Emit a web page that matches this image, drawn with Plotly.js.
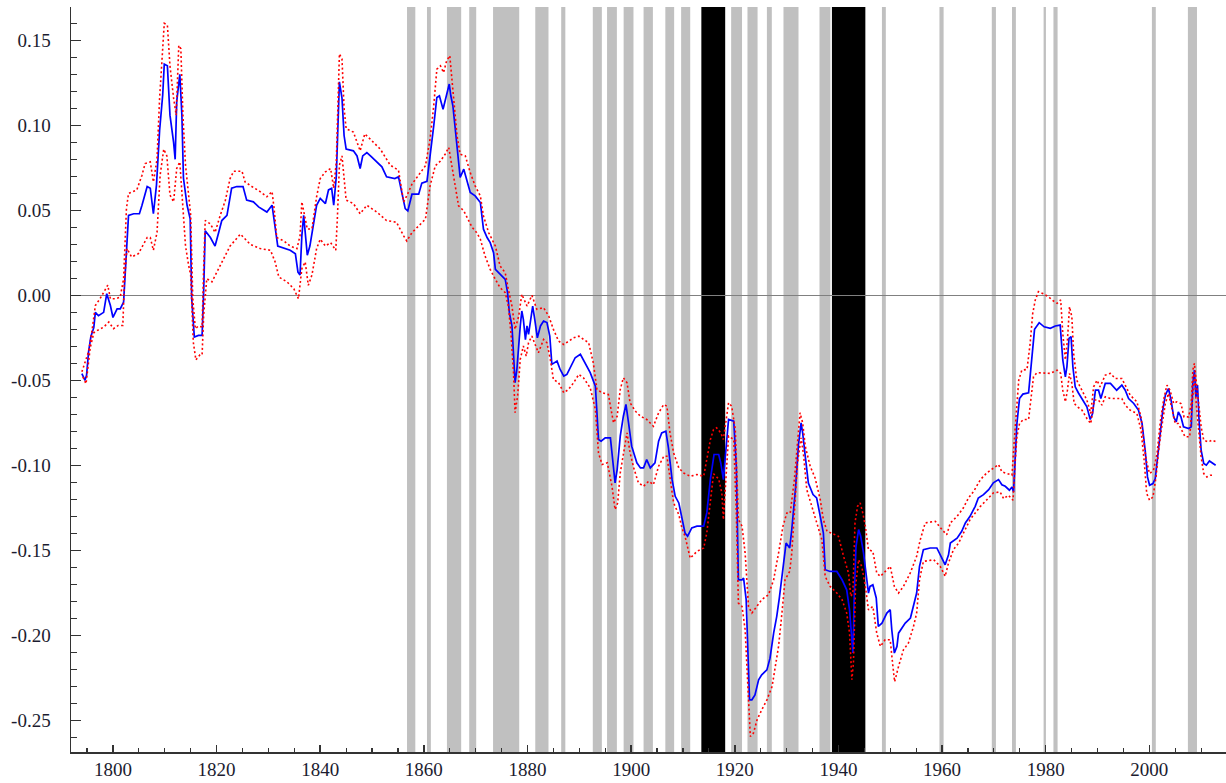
<!DOCTYPE html>
<html>
<head>
<meta charset="utf-8">
<script src="https://cdn.plot.ly/plotly-3.0.1.min.js"></script>
<style>html,body{margin:0;padding:0;background:#fff;}#chart{width:1226px;height:783px;}</style>
</head>
<body>
<div id="chart"></div>
<script>
// ---- Data: central estimate (blue) ----
var estYears = [1794.0,1794.6,1794.9,1795.3,1795.75,1796.3,1796.6,1797.2,1798.2,1798.8,1799.5,1800.0,1800.8,1801.4,1802.05,1802.6,1803.0,1804.0,1805.1,1805.6,1806.6,1807.2,1807.8,1808.4,1809.0,1809.6,1809.9,1810.5,1811.0,1811.7,1812.0,1812.3,1812.9,1813.3,1813.6,1814.3,1814.9,1815.2,1815.7,1816.5,1817.2,1817.5,1817.8,1818.8,1819.7,1820.4,1821.0,1822.0,1822.9,1823.9,1825.1,1825.8,1827.1,1828.1,1829.7,1830.7,1831.3,1831.8,1834.2,1835.2,1835.7,1836.1,1836.45,1836.8,1837.1,1837.5,1838.0,1838.4,1839.3,1840.0,1841.0,1841.6,1842.2,1842.6,1843.1,1843.4,1843.7,1844.2,1844.6,1845.0,1846.4,1847.1,1847.7,1848.2,1849.0,1849.9,1851.9,1852.8,1854.4,1855.1,1855.7,1856.4,1856.9,1857.7,1859.0,1859.6,1860.6,1861.2,1861.9,1862.5,1863.0,1863.7,1864.4,1864.9,1865.2,1865.6,1866.0,1866.5,1867.0,1867.7,1868.3,1868.95,1869.9,1870.9,1871.5,1872.2,1872.8,1873.45,1873.8,1874.7,1875.7,1876.15,1876.5,1877.0,1877.3,1877.6,1877.95,1878.3,1878.6,1878.9,1879.2,1879.6,1879.9,1880.2,1880.7,1881.0,1881.4,1881.9,1882.5,1883.1,1883.75,1884.3,1884.7,1885.7,1886.3,1887.0,1887.6,1888.25,1889.2,1890.2,1891.1,1892.1,1893.1,1893.4,1893.7,1894.2,1895.0,1896.0,1896.5,1896.9,1897.3,1897.9,1898.5,1899.0,1899.5,1900.1,1901.1,1901.8,1902.4,1903.0,1903.7,1904.6,1905.3,1905.9,1906.7,1907.2,1907.9,1908.5,1909.2,1909.8,1910.4,1910.9,1911.7,1912.7,1914.0,1914.6,1915.3,1916.0,1916.9,1917.3,1917.8,1918.35,1918.8,1919.8,1920.3,1920.7,1921.4,1921.7,1922.2,1922.5,1922.85,1923.3,1923.9,1924.6,1925.2,1926.2,1926.8,1927.5,1928.1,1928.6,1929.3,1929.9,1930.6,1931.0,1931.7,1932.3,1932.8,1933.1,1933.6,1934.2,1935.1,1935.8,1936.5,1937.1,1937.45,1938.4,1939.7,1940.7,1941.6,1942.15,1942.5,1942.8,1943.05,1943.4,1943.9,1944.3,1944.85,1945.4,1945.8,1946.1,1946.65,1947.3,1947.7,1948.4,1949.35,1950.0,1950.3,1950.8,1951.3,1951.6,1952.2,1952.9,1953.9,1954.5,1955.1,1955.65,1956.4,1957.7,1959.0,1959.8,1960.6,1961.25,1961.6,1962.9,1963.8,1964.5,1965.4,1966.4,1967.0,1968.0,1969.0,1969.9,1970.9,1971.55,1972.2,1973.0,1973.5,1973.8,1974.1,1974.45,1974.95,1975.6,1976.7,1977.15,1977.5,1977.85,1978.75,1979.7,1980.9,1981.85,1982.8,1983.0,1983.3,1983.8,1984.1,1984.5,1984.9,1985.25,1985.7,1986.3,1987.0,1987.95,1988.6,1989.05,1989.6,1990.2,1990.65,1991.5,1992.5,1993.1,1993.7,1994.7,1995.35,1996.0,1997.0,1997.9,1998.6,1999.2,1999.65,2000.05,2000.7,2001.15,2001.6,2002.1,2002.6,2003.1,2003.7,2004.2,2004.7,2005.2,2005.6,2006.1,2006.6,2007.6,2008.1,2008.4,2008.7,2009.0,2009.3,2009.6,2010.0,2010.5,2011.0,2011.6,2012.3,2012.8];
var estValues = [-0.046,-0.050,-0.047,-0.033,-0.024,-0.019,-0.010,-0.012,-0.010,0.001,-0.006,-0.013,-0.008,-0.008,-0.004,0.0275,0.047,0.048,0.048,0.053,0.064,0.063,0.048,0.065,0.097,0.118,0.136,0.135,0.106,0.090,0.080,0.114,0.130,0.106,0.069,0.053,0.045,-0.002,-0.0245,-0.0236,-0.0236,0.002,0.038,0.034,0.029,0.037,0.044,0.047,0.063,0.064,0.064,0.056,0.055,0.052,0.049,0.053,0.041,0.029,0.0265,0.0245,0.0137,0.012,0.035,0.047,0.037,0.0236,0.029,0.037,0.053,0.057,0.054,0.062,0.063,0.053,0.070,0.098,0.1256,0.116,0.094,0.086,0.085,0.082,0.0746,0.082,0.084,0.0815,0.0756,0.0697,0.0687,0.0697,0.060,0.051,0.0497,0.0595,0.0595,0.066,0.067,0.081,0.0997,0.1164,0.1174,0.1095,0.1174,0.1243,0.1174,0.1115,0.0997,0.086,0.0693,0.0742,0.0683,0.0605,0.0585,0.0546,0.0389,0.034,0.031,0.0251,0.0153,0.0124,0.0094,0.0016,-0.0102,-0.018,-0.0377,-0.0514,-0.0436,-0.0259,-0.018,-0.0092,-0.0141,-0.026,-0.018,-0.023,-0.0122,-0.0063,-0.0141,-0.025,-0.018,-0.0151,-0.016,-0.024,-0.0406,-0.0387,-0.0436,-0.0475,-0.0465,-0.0426,-0.0367,-0.0347,-0.0397,-0.0455,-0.0534,-0.0671,-0.0848,-0.0858,-0.0838,-0.0838,-0.1005,-0.1103,-0.1025,-0.0828,-0.0711,-0.0642,-0.075,-0.0887,-0.0985,-0.1015,-0.1015,-0.0966,-0.1015,-0.0985,-0.0858,-0.0809,-0.0799,-0.0897,-0.1084,-0.1182,-0.1221,-0.1319,-0.1398,-0.1417,-0.1368,-0.1358,-0.1358,-0.128,-0.108,-0.0936,-0.0936,-0.0986,-0.1084,-0.0887,-0.073,-0.074,-0.1005,-0.1673,-0.1673,-0.1663,-0.179,-0.2065,-0.2379,-0.2379,-0.235,-0.2261,-0.2232,-0.2203,-0.2134,-0.1987,-0.1888,-0.178,-0.1594,-0.1457,-0.1486,-0.1378,-0.1143,-0.0877,-0.075,-0.0809,-0.0946,-0.1104,-0.1172,-0.1192,-0.130,-0.1398,-0.1614,-0.1624,-0.1624,-0.1673,-0.1732,-0.185,-0.1987,-0.2104,-0.1771,-0.1476,-0.1378,-0.1417,-0.1516,-0.1673,-0.1751,-0.1712,-0.1702,-0.178,-0.1947,-0.1928,-0.1869,-0.1849,-0.1967,-0.2104,-0.2065,-0.1987,-0.1957,-0.1928,-0.1898,-0.1829,-0.1751,-0.1594,-0.1496,-0.1486,-0.1486,-0.1535,-0.1585,-0.1526,-0.1457,-0.1428,-0.1388,-0.1339,-0.130,-0.1241,-0.1192,-0.1172,-0.1143,-0.1103,-0.1084,-0.1114,-0.1123,-0.1146,-0.1127,-0.1156,-0.093,-0.0754,-0.0607,-0.0581,-0.0573,-0.041,-0.0322,-0.020,-0.0161,-0.0185,-0.0194,-0.018,-0.0175,-0.0243,-0.038,-0.0479,-0.042,-0.0253,-0.0243,-0.042,-0.0538,-0.0573,-0.0607,-0.0656,-0.073,-0.0695,-0.0558,-0.0558,-0.0607,-0.0518,-0.0518,-0.0538,-0.0558,-0.0528,-0.0558,-0.0607,-0.0636,-0.0675,-0.0754,-0.0911,-0.1068,-0.1117,-0.1107,-0.1078,-0.095,-0.0813,-0.0675,-0.0587,-0.0548,-0.0616,-0.0715,-0.0744,-0.0685,-0.0715,-0.0773,-0.0783,-0.0773,-0.0518,-0.044,-0.0597,-0.0528,-0.0734,-0.0911,-0.0989,-0.0999,-0.0974,-0.0989,-0.0999];

// ---- Data: upper band (red dotted) ----
var upYears = [1794.0,1795.3,1795.9,1796.6,1797.5,1798.5,1799.0,1799.5,1800.5,1801.4,1802.05,1802.6,1803.0,1804.6,1805.6,1806.2,1807.2,1807.8,1808.5,1809.0,1809.5,1809.9,1810.5,1811.0,1811.7,1812.2,1812.7,1813.1,1813.5,1814.0,1814.6,1815.0,1815.4,1815.9,1816.5,1817.2,1817.5,1817.8,1818.8,1819.7,1820.7,1821.7,1822.6,1823.3,1824.9,1825.5,1826.8,1828.4,1829.7,1830.7,1831.1,1831.6,1833.0,1834.2,1835.5,1836.1,1836.45,1837.0,1837.5,1838.4,1839.3,1840.0,1841.0,1842.0,1842.6,1843.1,1843.4,1843.7,1844.2,1844.6,1845.0,1846.4,1847.7,1848.6,1849.6,1851.6,1853.5,1855.1,1856.1,1856.7,1857.7,1859.3,1860.3,1861.2,1861.9,1862.5,1863.2,1863.8,1864.4,1865.0,1865.4,1865.9,1866.4,1867.0,1868.0,1868.95,1869.9,1870.9,1871.5,1872.5,1873.8,1874.7,1875.7,1876.3,1877.0,1877.6,1878.3,1878.9,1879.9,1880.85,1881.8,1883.1,1884.1,1885.0,1886.0,1887.0,1887.9,1888.9,1889.9,1890.8,1891.8,1892.7,1893.4,1894.4,1895.6,1896.6,1897.3,1897.9,1898.5,1899.2,1899.8,1900.8,1901.8,1903.0,1904.3,1905.3,1906.3,1906.9,1907.5,1908.2,1909.2,1910.1,1911.4,1912.7,1914.0,1914.6,1915.3,1915.9,1916.5,1917.3,1917.8,1918.35,1918.8,1919.4,1920.1,1920.7,1921.4,1922.0,1922.65,1923.3,1924.3,1925.2,1926.5,1927.5,1928.45,1929.3,1930.05,1930.7,1931.5,1932.0,1932.6,1933.1,1933.6,1934.55,1935.5,1936.5,1937.1,1937.8,1938.7,1940.0,1941.0,1941.95,1942.4,1942.8,1943.2,1943.7,1944.2,1944.7,1945.2,1945.8,1946.65,1947.4,1948.1,1949.0,1950.0,1950.8,1951.6,1952.55,1953.85,1955.1,1955.8,1956.75,1958.7,1960.0,1960.9,1961.6,1962.9,1964.1,1965.1,1966.1,1967.4,1968.65,1969.9,1970.9,1971.55,1972.5,1973.5,1973.9,1974.3,1974.8,1975.4,1976.4,1977.0,1977.5,1978.0,1978.6,1979.6,1980.55,1981.2,1982.2,1982.9,1983.3,1983.8,1984.2,1984.6,1985.05,1985.4,1986.0,1987.0,1987.95,1988.7,1989.25,1989.9,1990.5,1991.5,1992.5,1993.4,1994.7,1995.35,1996.3,1997.6,1998.4,1998.9,1999.4,2000.05,2000.8,2001.5,2002.1,2002.75,2003.4,2004.0,2004.7,2005.3,2006.1,2006.7,2007.6,2008.1,2008.4,2008.7,2009.05,2009.5,2010.0,2010.5,2011.4,2012.1,2012.9];
var upValues = [-0.045,-0.033,-0.022,-0.006,-0.002,0.003,0.006,-0.002,-0.002,-0.001,0.0098,0.051,0.060,0.062,0.0707,0.0775,0.0785,0.0667,0.080,0.116,0.139,0.160,0.159,0.135,0.116,0.106,0.147,0.145,0.106,0.0766,0.059,0.047,-0.002,-0.0196,-0.018,-0.0187,0.0157,0.044,0.042,0.037,0.047,0.056,0.0687,0.073,0.073,0.0667,0.064,0.061,0.058,0.061,0.051,0.034,0.032,0.029,0.0275,0.035,0.055,0.047,0.039,0.039,0.058,0.0687,0.0726,0.0746,0.063,0.0785,0.116,0.142,0.139,0.110,0.098,0.096,0.085,0.095,0.092,0.086,0.0766,0.0736,0.055,0.0585,0.0654,0.0722,0.0762,0.092,0.1115,0.133,0.135,0.131,0.138,0.141,0.127,0.1115,0.0938,0.083,0.082,0.0722,0.0644,0.0585,0.0467,0.0369,0.029,0.0173,0.0133,0.0035,-0.0063,-0.020,-0.0122,0.0006,-0.0063,0.000,-0.0082,-0.0073,-0.0122,-0.020,-0.0269,-0.0289,-0.0269,-0.025,-0.024,-0.026,-0.0279,-0.0397,-0.0554,-0.0573,-0.0583,-0.075,-0.0711,-0.0554,-0.0485,-0.0514,-0.0632,-0.0681,-0.0711,-0.073,-0.077,-0.0691,-0.0642,-0.0652,-0.0809,-0.0927,-0.1015,-0.1044,-0.1064,-0.1054,-0.1064,-0.0966,-0.0848,-0.0789,-0.0779,-0.0809,-0.0848,-0.073,-0.0632,-0.0652,-0.0789,-0.1319,-0.1358,-0.1516,-0.183,-0.1869,-0.183,-0.179,-0.1761,-0.1673,-0.1516,-0.1358,-0.128,-0.128,-0.1084,-0.0887,-0.0691,-0.075,-0.0887,-0.1005,-0.1074,-0.1202,-0.1319,-0.1388,-0.1398,-0.1417,-0.1535,-0.1634,-0.1771,-0.1751,-0.1339,-0.124,-0.1221,-0.128,-0.1358,-0.1496,-0.1506,-0.1634,-0.1653,-0.1624,-0.1594,-0.1712,-0.1751,-0.1712,-0.1634,-0.1535,-0.1437,-0.1339,-0.1329,-0.1378,-0.1408,-0.1339,-0.130,-0.1251,-0.1192,-0.1153,-0.1084,-0.1044,-0.1015,-0.0995,-0.1038,-0.1048,-0.1058,-0.0872,-0.0675,-0.0499,-0.044,-0.0436,-0.0283,-0.0106,-0.0027,0.0022,0.0008,-0.0008,-0.0027,-0.0047,-0.0027,-0.0224,-0.038,-0.0263,-0.0067,-0.0126,-0.0342,-0.0499,-0.0558,-0.0616,-0.0695,-0.0538,-0.0499,-0.0538,-0.0469,-0.0459,-0.0489,-0.0489,-0.0528,-0.0587,-0.0626,-0.0715,-0.0852,-0.097,-0.1048,-0.1029,-0.093,-0.075,-0.0616,-0.0528,-0.0558,-0.0636,-0.0626,-0.0636,-0.0715,-0.0715,-0.0636,-0.044,-0.040,-0.0499,-0.0636,-0.0773,-0.0852,-0.0862,-0.0852,-0.0862];

// ---- Data: lower band (red dotted) ----
var loYears = [1794.2,1794.8,1795.6,1796.3,1797.0,1798.2,1799.2,1800.1,1801.0,1801.9,1802.2,1802.7,1803.6,1804.9,1806.6,1807.2,1807.8,1808.5,1809.1,1809.8,1810.4,1811.0,1811.7,1812.3,1812.9,1813.5,1814.0,1814.6,1815.0,1815.5,1816.0,1816.8,1817.2,1817.5,1818.1,1819.1,1820.1,1821.4,1822.6,1824.6,1825.5,1826.5,1828.4,1830.4,1831.3,1832.0,1833.6,1834.9,1835.8,1836.45,1837.1,1837.7,1838.4,1839.3,1840.0,1841.0,1842.0,1843.0,1843.3,1843.7,1844.2,1844.6,1845.0,1846.4,1847.7,1849.0,1850.9,1852.8,1854.7,1856.1,1856.7,1857.7,1859.0,1860.3,1861.2,1862.2,1863.2,1864.1,1864.8,1865.4,1866.0,1866.7,1867.7,1868.6,1869.3,1870.2,1870.9,1871.8,1872.8,1873.8,1874.7,1875.7,1876.3,1876.8,1877.3,1877.6,1878.1,1878.6,1879.2,1879.75,1880.2,1880.85,1881.5,1882.1,1883.1,1883.75,1884.4,1885.0,1886.0,1887.0,1887.9,1888.9,1889.9,1890.8,1892.1,1893.1,1893.7,1894.4,1895.4,1896.3,1896.9,1897.4,1897.9,1898.5,1899.2,1899.8,1900.5,1901.4,1902.4,1903.4,1904.3,1905.3,1906.3,1906.9,1907.5,1908.2,1909.2,1909.8,1910.4,1911.4,1912.7,1914.0,1914.6,1915.3,1915.9,1916.9,1917.5,1917.8,1918.35,1918.8,1919.8,1920.3,1920.7,1921.4,1922.0,1922.5,1923.0,1923.6,1924.3,1925.2,1926.2,1927.2,1927.8,1928.45,1929.1,1929.7,1930.6,1931.0,1931.5,1932.1,1932.8,1933.3,1933.9,1934.9,1935.8,1936.8,1937.45,1938.4,1939.7,1940.7,1941.6,1942.15,1942.6,1942.9,1943.3,1943.9,1944.5,1945.2,1945.8,1946.65,1947.4,1948.1,1949.0,1950.0,1950.45,1950.85,1951.6,1952.55,1953.5,1954.5,1955.1,1955.65,1956.4,1958.4,1959.65,1960.6,1961.25,1962.2,1963.2,1964.1,1965.4,1966.4,1967.4,1968.65,1969.9,1971.2,1971.9,1972.8,1973.7,1974.1,1974.45,1974.95,1975.7,1976.7,1977.15,1977.65,1978.3,1979.6,1980.9,1982.2,1982.9,1983.3,1983.8,1984.2,1984.6,1985.05,1985.5,1986.15,1987.0,1987.95,1988.7,1989.4,1990.2,1990.85,1991.5,1992.5,1993.7,1994.7,1995.35,1996.3,1997.6,1998.4,1999.0,1999.5,2000.05,2000.7,2001.3,2001.8,2002.4,2003.1,2003.7,2004.35,2005.0,2005.6,2006.3,2006.9,2007.8,2008.2,2008.7,2009.05,2009.5,2010.0,2010.5,2011.1,2011.75,2012.4];
var loValues = [-0.048,-0.052,-0.031,-0.022,-0.0206,-0.0187,-0.0157,-0.0196,-0.0177,-0.0177,0.0079,0.0275,0.0226,0.0245,0.034,0.034,0.0265,0.037,0.0707,0.086,0.082,0.059,0.055,0.0746,0.0785,0.051,0.029,0.0177,0.0118,-0.0275,-0.038,-0.035,-0.035,-0.0118,0.0098,0.0079,0.0137,0.0216,0.029,0.036,0.033,0.030,0.0275,0.0265,0.0196,0.0108,0.0079,0.0039,-0.002,0.0157,0.0196,0.0059,0.012,0.0275,0.033,0.029,0.031,0.0265,0.045,0.0766,0.082,0.0707,0.056,0.054,0.048,0.053,0.049,0.044,0.043,0.035,0.032,0.0369,0.0408,0.0448,0.0644,0.0762,0.079,0.083,0.087,0.0762,0.066,0.0526,0.0497,0.0438,0.040,0.0369,0.033,0.0232,0.0153,0.0094,0.0045,0.0016,-0.0063,-0.022,-0.0455,-0.069,-0.059,-0.0377,-0.0298,-0.0357,-0.0279,-0.024,-0.0298,-0.0338,-0.0259,-0.0279,-0.0377,-0.0495,-0.0514,-0.0573,-0.0554,-0.0514,-0.0465,-0.0485,-0.0544,-0.0671,-0.0927,-0.0995,-0.0985,-0.1123,-0.126,-0.1221,-0.1044,-0.0927,-0.0809,-0.0927,-0.1015,-0.1103,-0.1123,-0.1093,-0.1113,-0.1005,-0.0946,-0.0946,-0.1064,-0.1221,-0.129,-0.1368,-0.1417,-0.1546,-0.1506,-0.1486,-0.1398,-0.1202,-0.105,-0.108,-0.1162,-0.1319,-0.108,-0.0828,-0.0848,-0.128,-0.181,-0.183,-0.1967,-0.2261,-0.2595,-0.2575,-0.2497,-0.2438,-0.2379,-0.2301,-0.2183,-0.2065,-0.1869,-0.1673,-0.1624,-0.1516,-0.128,-0.0986,-0.0838,-0.0946,-0.1143,-0.1241,-0.1339,-0.1437,-0.1653,-0.1712,-0.1751,-0.179,-0.1869,-0.1987,-0.2261,-0.2163,-0.1712,-0.1555,-0.1594,-0.1712,-0.185,-0.183,-0.1987,-0.2065,-0.2026,-0.2026,-0.2163,-0.2273,-0.2183,-0.2085,-0.2046,-0.1947,-0.1869,-0.1673,-0.1565,-0.1555,-0.1594,-0.1653,-0.1574,-0.1496,-0.1457,-0.1398,-0.1319,-0.128,-0.1241,-0.1202,-0.1162,-0.1156,-0.1196,-0.1176,-0.1205,-0.0989,-0.0832,-0.0754,-0.073,-0.073,-0.0597,-0.0479,-0.0455,-0.0459,-0.0459,-0.044,-0.0459,-0.0558,-0.0626,-0.0558,-0.0459,-0.0518,-0.0636,-0.0656,-0.0675,-0.0724,-0.0754,-0.0616,-0.0616,-0.0646,-0.0597,-0.0607,-0.0607,-0.0607,-0.0646,-0.0675,-0.0695,-0.0793,-0.097,-0.1166,-0.1205,-0.1186,-0.1068,-0.0911,-0.0773,-0.0636,-0.0577,-0.0675,-0.0754,-0.0754,-0.0793,-0.0832,-0.0832,-0.0675,-0.0459,-0.0636,-0.0793,-0.095,-0.1048,-0.1068,-0.1058,-0.1058];

// ---- Shaded periods ----
var greyStart = [1856.75,1860.6,1864.45,1868.75,1873.35,1881.5,1886.5,1892.6,1895.35,1898.55,1902.4,1906.6,1909.65,1919.3,1922.45,1926.2,1929.4,1936.35,1948.4,1959.5,1969.6,1973.5,1979.6,1981.5,2000.5,2007.45];
var greyEnd   = [1858.35,1861.35,1867.2,1870.1,1878.4,1884.05,1887.3,1894.35,1897.25,1900.45,1904.2,1908.3,1911.4,1921.4,1924.4,1927.15,1932.3,1938.45,1949.15,1960.3,1970.4,1974.25,1980.05,1982.3,2001.25,2009.2];
var warStart = [1913.55,1938.75];
var warEnd   = [1918.15,1945.2];

// ---- Axis ticks ----
var xTickVals = [1800,1820,1840,1860,1880,1900,1920,1940,1960,1980,2000];
var yTickVals = [0.15,0.10,0.05,0.00,-0.05,-0.10,-0.15,-0.20,-0.25];
var yTickText = yTickVals.map(function(v){ return v.toFixed(2); });
var xTickText = xTickVals.map(function(v){ return String(v); });

var shapes = [];
for (var i = 0; i < greyStart.length; i++) {
  shapes.push({type:'rect', xref:'x', yref:'paper', x0:greyStart[i], x1:greyEnd[i], y0:0, y1:1,
    fillcolor:'#c0c0c0', line:{width:0}, layer:'below'});
}
for (var j = 0; j < warStart.length; j++) {
  shapes.push({type:'rect', xref:'x', yref:'paper', x0:warStart[j], x1:warEnd[j], y0:0, y1:1,
    fillcolor:'#000000', line:{width:0}, layer:'below'});
}

var traces = [
  {x:estYears, y:estValues, type:'scatter', mode:'lines', line:{color:'#0000ff', width:1.7}, hoverinfo:'skip'},
  {x:upYears, y:upValues, type:'scatter', mode:'lines', line:{color:'#ff0000', width:1.6, dash:'2px,2.5px'}, hoverinfo:'skip'},
  {x:loYears, y:loValues, type:'scatter', mode:'lines', line:{color:'#ff0000', width:1.6, dash:'2px,2.5px'}, hoverinfo:'skip'}
];

var fontCol = '#1c1c30';
var layout = {
  width:1226, height:783,
  margin:{l:71, r:0, t:7, b:31, pad:0},
  paper_bgcolor:'#ffffff', plot_bgcolor:'#ffffff',
  showlegend:false,
  font:{family:'"Liberation Serif", "DejaVu Serif", serif', size:19, color:fontCol},
  xaxis:{
    range:[1791.9, 2014.8], showgrid:false, zeroline:false,
    showline:true, linecolor:'#333333', linewidth:1.5,
    ticks:'inside', ticklen:7, tickwidth:1.5, tickcolor:'#333333',
    tickmode:'array', tickvals:xTickVals, ticktext:xTickText,
    ticklabelstandoff:0,
    minor:{ticks:'inside', ticklen:4, tickwidth:1.2, tickcolor:'#333333', tickmode:'linear', tick0:1800, dtick:5, showgrid:false}
  },
  yaxis:{
    range:[-0.2686, 0.1696], showgrid:false,
    zeroline:true, zerolinecolor:'#808080', zerolinewidth:1.3,
    showline:true, linecolor:'#333333', linewidth:1.5,
    ticks:'inside', ticklen:10, tickwidth:1.5, tickcolor:'#333333',
    tickmode:'array', tickvals:yTickVals, ticktext:yTickText,
    ticklabelstandoff:15,
    minor:{ticks:'inside', ticklen:6, tickwidth:1.2, tickcolor:'#333333', tickmode:'linear', tick0:0, dtick:0.01, showgrid:false}
  },
  shapes:shapes
};

Plotly.newPlot('chart', traces, layout, {displayModeBar:false, staticPlot:true});
</script>
</body>
</html>
